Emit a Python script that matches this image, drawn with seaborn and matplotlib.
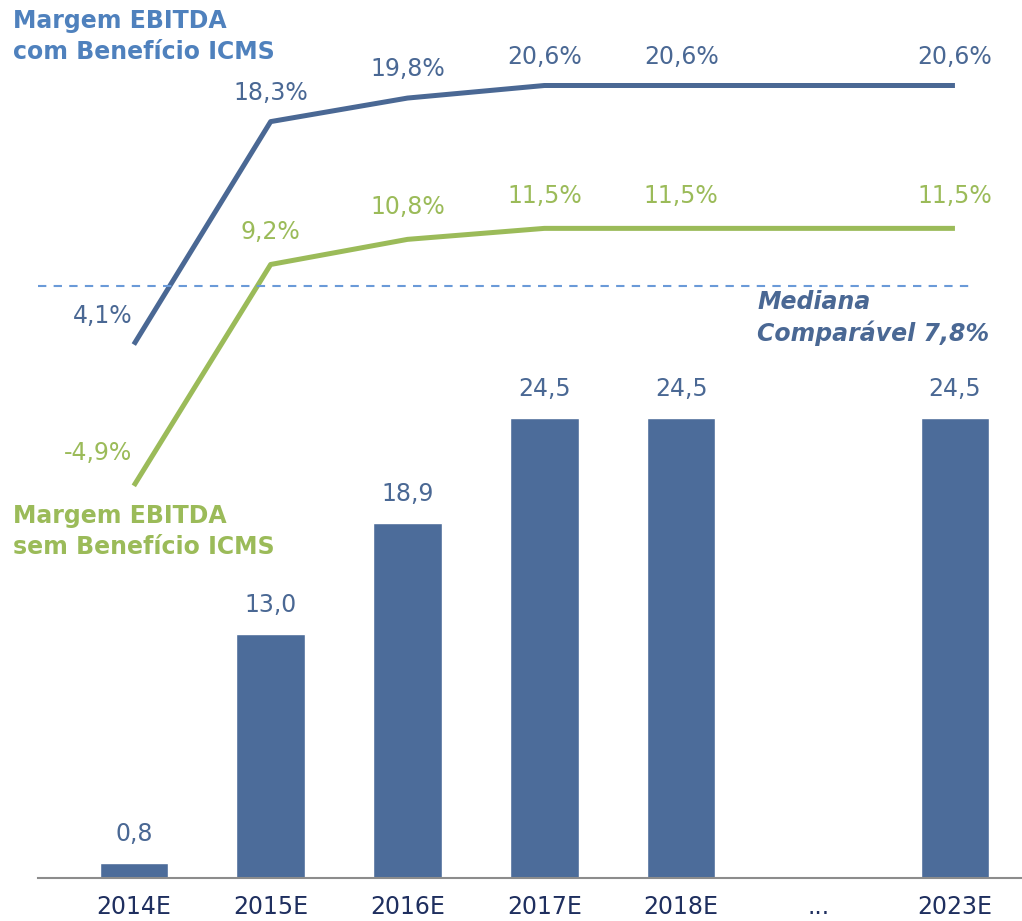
import matplotlib
matplotlib.use("Agg")
import matplotlib.pyplot as plt
import seaborn as sns
import pandas as pd

# data
categories = ["2014E", "2015E", "2016E", "2017E", "2018E", "...", "2023E"]
bar_years = ["2014E", "2015E", "2016E", "2017E", "2018E", "2023E"]
bar_values = [0.8, 13.0, 18.9, 24.5, 24.5, 24.5]
margin_with = [4.1, 18.3, 19.8, 20.6, 20.6, 20.6]
margin_without = [-4.9, 9.2, 10.8, 11.5, 11.5, 11.5]
median_value = 7.8

bar_color = "#4C6C9A"
blue_line = "#4A6894"
green = "#9BBB59"
title_blue = "#4F81BD"
dash_blue = "#6A9AD8"
tick_color = "#1F2F5F"

sns.set_style("white")
plt.rcParams['font.family'] = ['DejaVu Sans']

W, H = 1022, 921
fig = plt.figure(figsize=(W / 100, H / 100), dpi=100)
# axes from x=38px to right edge, baseline at y=878px
ax = fig.add_axes([38 / W, (H - 878) / H, (W - 38) / W, 878 / H])

df = pd.DataFrame({"year": bar_years, "value": bar_values})
sns.barplot(data=df, x="year", y="value", order=categories, color=bar_color,
            width=0.5, saturation=1, ax=ax)

ax.set_xlim(-0.70, 6.49)
ax.set_ylim(0, 878 / 18.78)
for i, v in enumerate(bar_values):
    xpos = categories.index(bar_years[i])
    ax.annotate(f"{v:.1f}".replace(".", ","), (xpos, v), xytext=(0, 12),
                textcoords="offset points", ha="center", va="bottom",
                fontsize=17, color=blue_line)

ax.set_xlabel("")
ax.set_ylabel("")
ax.set_yticks([])
ax.tick_params(axis="x", length=0, pad=12, labelsize=17, labelcolor=tick_color)
for s in ["top", "left", "right"]:
    ax.spines[s].set_visible(False)
ax.spines["bottom"].set_color("#8C8C8C")
ax.spines["bottom"].set_linewidth(1.5)

# margin lines on a second axis
ax2 = ax.twinx()
ax2.set_ylim(20.6 - 792.5 / 15.7, 20.6 + 85.5 / 15.7)
line_x = [categories.index(y) for y in bar_years]

sns.lineplot(x=line_x, y=margin_with, ax=ax2, color=blue_line, linewidth=3.6,
             sort=False, solid_capstyle="butt")
sns.lineplot(x=line_x, y=margin_without, ax=ax2, color=green, linewidth=3.6,
             sort=False, solid_capstyle="butt")

for i, (a, b) in enumerate(zip(margin_with, margin_without)):
    xa = line_x[i]
    ha = "right" if i == 0 else "center"
    dx = -1 if i == 0 else 0
    ax2.annotate(f"{a:.1f}%".replace(".", ","), (xa, a), xytext=(dx, 12),
                 textcoords="offset points", ha=ha, va="bottom",
                 fontsize=17, color=blue_line)
    ax2.annotate(f"{b:.1f}%".replace(".", ","), (xa, b), xytext=(dx, 15),
                 textcoords="offset points", ha=ha, va="bottom",
                 fontsize=17, color=green)

ax2.plot([-0.70, 6.12], [median_value, median_value], color=dash_blue,
         linestyle=(0, (4, 3.5)), linewidth=1.5)
ax2.set_yticks([])
for s in ax2.spines.values():
    s.set_visible(False)

fig.text(13 / W, 1 - 9 / H, "Margem EBITDA\ncom Benefício ICMS", ha="left", va="top",
         fontsize=17, fontweight="bold", color=title_blue, linespacing=1.35)
fig.text(13 / W, 1 - 504 / H, "Margem EBITDA\nsem Benefício ICMS", ha="left", va="top",
         fontsize=17, fontweight="bold", color=green, linespacing=1.35)
fig.text(757 / W, 1 - 290 / H, "Mediana\nComparável 7,8%", ha="left", va="top",
         fontsize=17, fontweight="bold", fontstyle="italic", color=blue_line,
         linespacing=1.3)

fig.savefig("out.png", dpi=100)
